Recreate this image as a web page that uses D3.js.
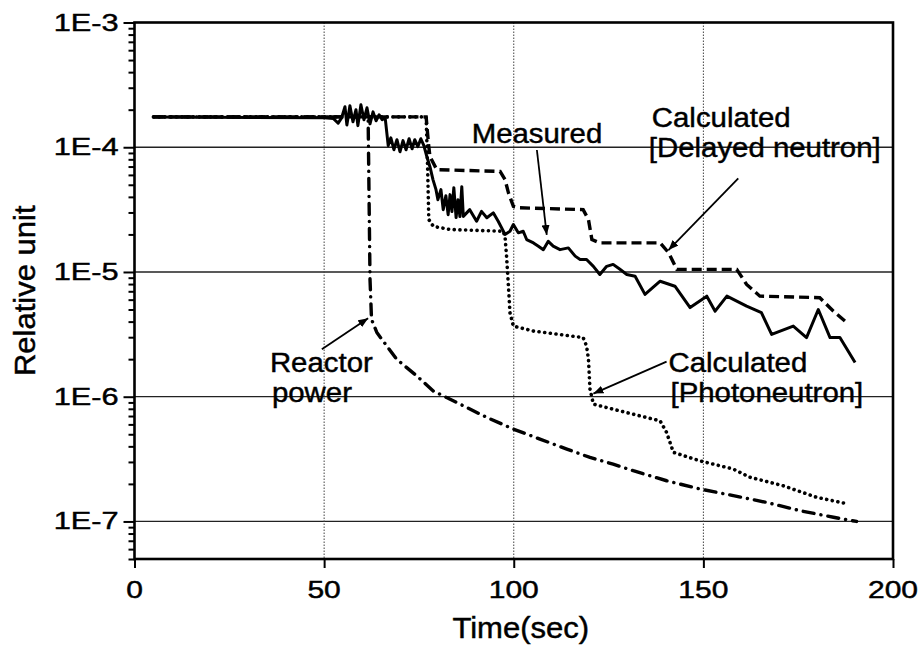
<!DOCTYPE html>
<html>
<head>
<meta charset="utf-8">
<script src="https://cdn.jsdelivr.net/npm/d3@7"></script>
<style>
  html, body { margin: 0; padding: 0; background: #fff; }
  svg { display: block; }
  text { font-family: "Liberation Sans", Arial, sans-serif; fill: #000; stroke: #000; stroke-width: 0.45px; }
</style>
</head>
<body>
<svg id="chart" width="924" height="647"></svg>
<script>
// ---- data: [time (s), relative value] ----
const measured = [
  [5,1.75e-4],[50,1.72e-4],[52.4,1.70e-4],[53.7,1.56e-4],[54.6,1.72e-4],[55.5,2.11e-4],
  [56.0,1.51e-4],[56.8,2.15e-4],[57.6,1.60e-4],[58.4,2.0e-4],[58.9,1.49e-4],[59.7,2.19e-4],
  [60.5,1.66e-4],[61.3,2.07e-4],[62.1,1.54e-4],[62.9,1.92e-4],[63.7,1.63e-4],[64.5,1.82e-4],
  [65.3,1.66e-4],[66.1,1.72e-4],[66.9,1.03e-4],[67.6,1.19e-4],[68.4,9.55e-5],[69.2,1.15e-4],
  [70.0,9.2e-5],[70.8,1.13e-4],[71.6,9.55e-5],[72.4,1.17e-4],[73.2,9.73e-5],[73.9,1.15e-4],
  [74.7,1.01e-4],[75.5,1.17e-4],[76.3,1.03e-4],[77.1,8.39e-5],[77.9,6.98e-5],[78.7,5.5e-5],
  [79.5,4.57e-5],[80.0,3.8e-5],[80.8,4.57e-5],[81.4,3.16e-5],[82.1,4.09e-5],[82.7,2.88e-5],
  [83.2,4.17e-5],[83.7,3.05e-5],[84.2,4.74e-5],[84.8,2.73e-5],[85.3,3.8e-5],[85.8,2.78e-5],
  [86.3,4.83e-5],[86.7,2.79e-5],[88.4,3.16e-5],[90.2,2.55e-5],[91.5,3.06e-5],[92.9,2.72e-5],
  [94.6,2.98e-5],[95.9,2.55e-5],[97.7,2.0e-5],[99.0,2.12e-5],[99.9,2.40e-5],[101.2,2.06e-5],
  [102.5,2.12e-5],[103.4,1.82e-5],[105.2,1.71e-5],[106.5,1.61e-5],[107.8,1.51e-5],[109.1,1.76e-5],
  [110.4,1.61e-5],[112.2,1.51e-5],[114.4,1.56e-5],[116.2,1.34e-5],[117.5,1.26e-5],[119.2,1.26e-5],
  [121.0,1.11e-5],[122.7,9.55e-6],[124.5,1.11e-5],[126.2,1.15e-5],[128.0,1.05e-5],[129.8,9.55e-6],
  [132.0,9.25e-6],[134.6,6.61e-6],[138.6,8.43e-6],[142.5,7.69e-6],[146.5,5.18e-6],[150.9,6.4e-6],
  [153.1,4.85e-6],[156.2,6.4e-6],[161.4,5.32e-6],[165.3,4.72e-6],[168.0,3.16e-6],[173.7,3.68e-6],
  [177.2,2.98e-6],[180.3,5.0e-6],[183.4,2.98e-6],[186.0,2.98e-6],[190.0,1.88e-6]
];

const delayedNeutron = [
  [5,1.75e-4],[76.9,1.75e-4],[77.5,1.08e-4],[77.9,8.43e-5],[79.7,6.61e-5],[96.4,6.4e-5],
  [97.7,5.5e-5],[98.6,4.31e-5],[99.9,3.36e-5],[101.6,3.27e-5],[118.3,3.16e-5],[119.7,2.63e-5],
  [120.6,1.82e-5],[122.7,1.71e-5],[138.6,1.71e-5],[140.8,1.43e-5],[143.0,1.05e-5],[158.8,1.05e-5],
  [161.4,7.94e-6],[164.9,6.4e-6],[180.7,6.22e-6],[184.3,4.85e-6],[187.8,3.93e-6]
];

const photoneutron = [
  [5,1.75e-4],[76.9,1.75e-4],[77.3,6.61e-5],[77.6,2.63e-5],[78.8,2.32e-5],[83.2,2.19e-5],
  [97.2,2.12e-5],[97.7,1.93e-5],[98.1,1.34e-5],[98.6,7.69e-6],[99.0,4.72e-6],[99.9,3.68e-6],
  [105.2,3.36e-6],[118.3,2.98e-6],[119.2,2.55e-6],[119.7,2.0e-6],[120.1,1.15e-6],[121.0,8.71e-7],
  [128.0,7.69e-7],[131.5,7.24e-7],[138.6,6.4e-7],[140.3,5.17e-7],[142.1,3.58e-7],[149.1,3.06e-7],
  [157.9,2.63e-7],[162.3,2.26e-7],[171.1,1.93e-7],[179.9,1.56e-7],[188.2,1.38e-7]
];

const reactorPower = [
  [5,1.75e-4],[61.6,1.75e-4],[62.1,8.71e-6],[62.5,4.17e-6],[63.9,3.27e-6],[69.1,2.0e-6],
  [74.4,1.47e-6],[78.8,1.11e-6],[82.3,9.85e-7],[87.6,8.2e-7],[92.9,6.82e-7],[99.9,5.5e-7],
  [106.9,4.57e-7],[114,3.8e-7],[120.1,3.26e-7],[126.2,2.88e-7],[131.5,2.55e-7],[140.3,2.12e-7],
  [149.1,1.82e-7],[157.9,1.61e-7],[166.7,1.42e-7],[175.5,1.22e-7],[184.3,1.08e-7],[190.4,1.0e-7]
];

// ---- axes ----
const xTicks = [0, 50, 100, 150, 200];
const xTickLabels = ["0", "50", "100", "150", "200"];
const yTicks = [1e-7, 1e-6, 1e-5, 1e-4, 1e-3];
const yTickLabels = ["1E-7", "1E-6", "1E-5", "1E-4", "1E-3"];
const xTitle = "Time(sec)";
const yTitle = "Relative unit";

// ---- annotations: text lines anchored in data units, arrows from/to in data units ----
const labels = [
  { lines: ["Measured"], t: 88.9, v: 1.08e-4, dx: [0] },
  { lines: ["Calculated", "[Delayed neutron]"], t: 136.4, v: 1.46e-4, dx: [0, -3] },
  { lines: ["Calculated", "[Photoneutron]"], t: 140.8, v: 1.59e-6, dx: [0, 2] },
  { lines: ["Reactor", "power"], t: 35.7, v: 1.58e-6, dx: [0, 2] }
];
const arrows = [
  { from: [106.1, 9.5e-5], to: [108.7, 1.98e-5] },
  { from: [159.2, 5.63e-5], to: [140.8, 1.5e-5] },
  { from: [140.3, 1.91e-6], to: [121.0, 1.06e-6] },
  { from: [49.4, 2.4e-6], to: [61.6, 4.26e-6] }
];

// ---- layout ----
const W = 924, H = 647;
const margin = { top: 22.5, right: 31, bottom: 88, left: 134.5 };
const svg = d3.select("#chart");

const x = d3.scaleLinear().domain([0, 200]).range([margin.left, W - margin.right]);
const y = d3.scaleLog().domain([5e-8, 1e-3]).range([H - margin.bottom, margin.top]);

const x0 = x.range()[0], x1 = x.range()[1];
const yb = y.range()[0], yt = y.range()[1];

// horizontal gridlines at the decades
svg.append("g")
  .selectAll("line").data(yTicks.filter(d => d < 1e-3)).join("line")
  .attr("x1", x0).attr("x2", x1)
  .attr("y1", d => y(d)).attr("y2", d => y(d))
  .attr("stroke", "#222").attr("stroke-width", 1.3);

// vertical dotted gridlines
svg.append("g")
  .selectAll("line").data(xTicks.filter(d => d > 0 && d < 200)).join("line")
  .attr("x1", d => x(d)).attr("x2", d => x(d))
  .attr("y1", yt).attr("y2", yb)
  .attr("stroke", "#444").attr("stroke-width", 1).attr("stroke-dasharray", "1.5 1.5");

// y axis: major and minor ticks
const minorY = [];
for (let e = -8; e <= -4; e++) {
  for (let m = 2; m <= 9; m++) {
    const v = m * Math.pow(10, e);
    if (v >= 5e-8 && v < 1e-3) minorY.push(v);
  }
}
svg.append("g")
  .attr("transform", `translate(${x0},0)`)
  .call(d3.axisLeft(y).tickValues(minorY).tickSize(6).tickFormat(""))
  .call(g => g.select(".domain").remove())
  .call(g => g.selectAll("line").attr("stroke-width", 2));
svg.append("g")
  .attr("transform", `translate(${x0},0)`)
  .call(d3.axisLeft(y).tickValues(yTicks).tickSize(11).tickFormat(""))
  .call(g => g.select(".domain").remove())
  .call(g => g.selectAll("line").attr("stroke-width", 2));

// x axis ticks
svg.append("g")
  .attr("transform", `translate(0,${yb})`)
  .call(d3.axisBottom(x).tickValues(xTicks).tickSize(9).tickFormat(""))
  .call(g => g.select(".domain").remove())
  .call(g => g.selectAll("line").attr("stroke-width", 2));

// plot frame
svg.append("rect")
  .attr("x", x0).attr("y", yt).attr("width", x1 - x0).attr("height", yb - yt)
  .attr("fill", "none").attr("stroke", "#000").attr("stroke-width", 2.6);

// tick labels (wide face: stretched horizontally)
svg.append("g").selectAll("text").data(yTicks).join("text")
  .attr("transform", d => `translate(${x0 - 16},${y(d) + 8}) scale(1.28,1)`)
  .attr("text-anchor", "end").attr("font-size", 24)
  .text((d, i) => yTickLabels[i]);
svg.append("g").selectAll("text").data(xTicks).join("text")
  .attr("transform", d => `translate(${x(d)},${yb + 39}) scale(1.25,1)`)
  .attr("text-anchor", "middle").attr("font-size", 24)
  .text((d, i) => xTickLabels[i]);

// axis titles
svg.append("text")
  .attr("transform", `translate(${(x0 + x1) / 2 + 7},${H - 9}) scale(1.07,1)`)
  .attr("text-anchor", "middle").attr("font-size", 29)
  .text(xTitle);
svg.append("text")
  .attr("transform", `translate(35,${(yt + yb) / 2}) rotate(-90) scale(1.07,1)`)
  .attr("text-anchor", "middle").attr("font-size", 29)
  .text(yTitle);

// series
const line = d3.line().x(d => x(d[0])).y(d => y(d[1]));

svg.append("path").datum(reactorPower)
  .attr("d", line).attr("fill", "none").attr("stroke", "#000")
  .attr("stroke-width", 3.4).attr("stroke-linecap", "round")
  .attr("stroke-dasharray", "11 7 0.1 7");

svg.append("path").datum(photoneutron)
  .attr("d", line).attr("fill", "none").attr("stroke", "#000")
  .attr("stroke-width", 3.6).attr("stroke-linecap", "round")
  .attr("stroke-dasharray", "0.1 5.6");

svg.append("path").datum(delayedNeutron)
  .attr("d", line).attr("fill", "none").attr("stroke", "#000")
  .attr("stroke-width", 3.4).attr("stroke-dasharray", "10 5");

svg.append("path").datum(measured)
  .attr("d", line).attr("fill", "none").attr("stroke", "#000")
  .attr("stroke-width", 3).attr("stroke-linejoin", "round");

// annotation arrows
svg.append("defs").append("marker")
  .attr("id", "head").attr("viewBox", "0 0 10 8")
  .attr("refX", 10).attr("refY", 4)
  .attr("markerWidth", 10).attr("markerHeight", 8)
  .attr("markerUnits", "userSpaceOnUse").attr("orient", "auto")
  .append("path").attr("d", "M0,0 L10,4 L0,8 Z").attr("fill", "#000");

svg.append("g").selectAll("line").data(arrows).join("line")
  .attr("x1", d => x(d.from[0])).attr("y1", d => y(d.from[1]))
  .attr("x2", d => x(d.to[0])).attr("y2", d => y(d.to[1]))
  .attr("stroke", "#000").attr("stroke-width", 1.8)
  .attr("marker-end", "url(#head)");

// annotation text
const lab = svg.append("g");
labels.forEach(l => {
  l.lines.forEach((s, i) => {
    lab.append("text")
      .attr("transform", `translate(${x(l.t) + l.dx[i]},${y(l.v) + i * 30}) scale(1.05,1)`)
      .attr("font-size", 28)
      .text(s);
  });
});
</script>
</body>
</html>
